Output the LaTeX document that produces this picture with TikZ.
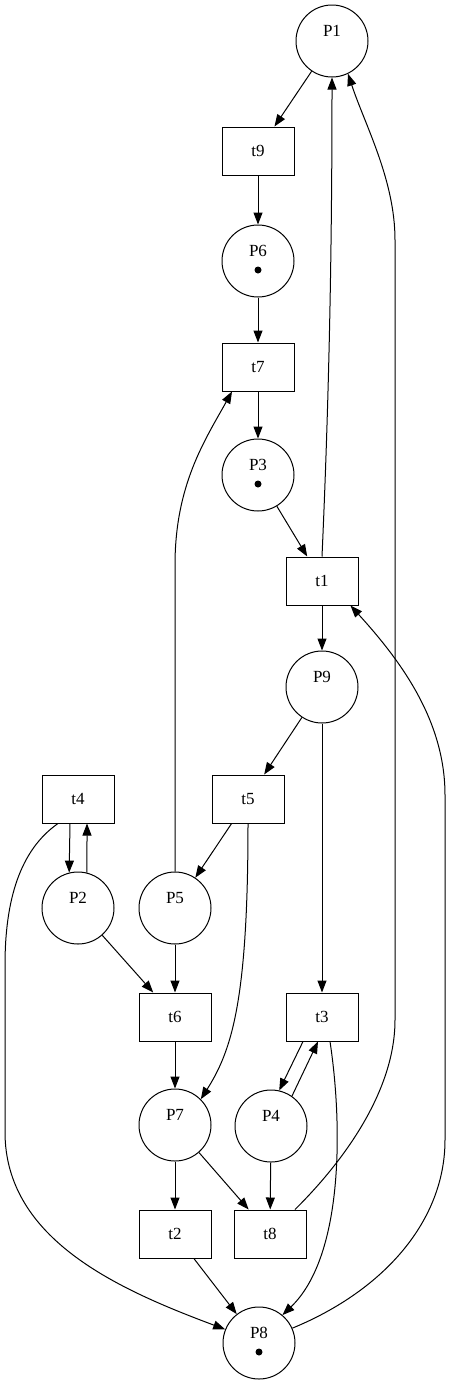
\documentclass[tikz,border=0pt]{standalone}
\usepackage{fontspec}
\setmainfont{Liberation Serif}
\usetikzlibrary{arrows.meta}
\newcommand{\plabel}[1]{\raisebox{5pt}[0pt][0pt]{#1}}
\tikzset{
  place/.style={circle, draw, line width=1pt, minimum size=72pt, inner sep=0pt},
  transition/.style={rectangle, draw, line width=1pt, minimum width=72pt, minimum height=48pt, inner sep=0pt},
  arc/.style={line width=1pt, -{Triangle[length=12pt,width=9pt]}}
}
\begin{document}
\begin{tikzpicture}[x=1pt, y=-1pt, font=\fontsize{17}{20}\selectfont]
\useasboundingbox (0,0) rectangle (451,1384);
\node [place] (P1) at (332,41) {\plabel{P1}};
\node [transition] (t9) at (258,151) {t9};
\node [place] (P6) at (258,261) {\plabel{P6}};
\node [transition] (t7) at (258,367) {t7};
\node [place] (P3) at (258,475) {\plabel{P3}};
\node [transition] (t1) at (322,581) {t1};
\node [place] (P9) at (322,687) {\plabel{P9}};
\node [transition] (t4) at (78,799) {t4};
\node [transition] (t5) at (248,799) {t5};
\node [place] (P2) at (78,908) {\plabel{P2}};
\node [place] (P5) at (175,908) {\plabel{P5}};
\node [transition] (t6) at (175,1017) {t6};
\node [transition] (t3) at (322,1017) {t3};
\node [place] (P7) at (175,1125) {\plabel{P7}};
\node [place] (P4) at (271,1126) {\plabel{P4}};
\node [transition] (t2) at (175,1234) {t2};
\node [transition] (t8) at (270,1234) {t8};
\node [place] (P8) at (259,1343) {\plabel{P8}};
\fill (P6) ++(0,9) circle (3.5pt);
\fill (P3) ++(0,9) circle (3.5pt);
\fill (P8) ++(0,9) circle (3.5pt);
\draw [arc] (P1) -- (t9);
\draw [arc] (t9) -- (P6);
\draw [arc] (P6) -- (t7);
\draw [arc] (t7) -- (P3);
\draw [arc] (P3) -- (t1);
\draw [arc] (t1) -- (P9);
\draw [arc] (P9) -- (t5);
\draw [arc] (P9) -- (t3);
\draw [arc] (t5) -- (P5);
\draw [arc] (P5) -- (t6);
\draw [arc] (P2) -- (t6);
\draw [arc] (t6) -- (P7);
\draw [arc] (P7) -- (t2);
\draw [arc] (P7) -- (t8);
\draw [arc] (P4) -- (t8);
\draw [arc] (t2) -- (P8);
\draw [arc] ([xshift=-8pt]t4.south) -- (P2.104);
\draw [arc] (P2.76) .. controls (87,850) .. ([xshift=9pt]t4.south);
\draw [arc] ([xshift=-19pt]t3.south) -- (P4.77);
\draw [arc] (P4.55) -- ([xshift=-4pt]t3.south);
\draw [arc] (t1.north) .. controls (329,400) and (332,250) .. (P1.south);
\draw [arc] ([xshift=25pt]t8.north) .. controls (345,1160) and (395,1090) .. (395,1020) -- (395,240) .. controls (395,180) and (365,125) .. (P1.296);
\draw [arc] (P8.24) .. controls (385,1290) and (445,1220) .. (445,1140) -- (445,795) .. controls (445,720) and (400,660) .. ([xshift=-8pt]t1.south east);
\draw [arc] ([xshift=-20pt]t4.south) .. controls (20,850) and (5,900) .. (5,965) -- (5,1132) .. controls (5,1240) and (120,1290) .. (P8.158);
\draw [arc] (t5.south) .. controls (248,1000) and (232,1050) .. (P7.45);
\draw [arc] (P5.north) -- (175,565) .. controls (175,485) and (205,440) .. ([xshift=-26pt]t7.south);
\draw [arc] ([xshift=8pt]t3.south) .. controls (342,1120) and (345,1255) .. (P8.50);
\end{tikzpicture}
\end{document}
